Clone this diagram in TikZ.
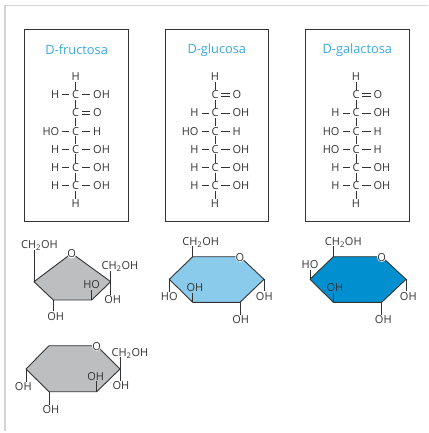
\documentclass[tikz,border=0pt]{standalone}
\usepackage{fontspec}
\setmainfont{Open Sans}
\usetikzlibrary{%
    calc,
    positioning
}
\definecolor{inkgray}{HTML}{333333}
\definecolor{titleblue}{HTML}{3AA9DC}
\definecolor{ketogray}{HTML}{BCBEC0}
\definecolor{glucoblue}{HTML}{8ACBEC}
\definecolor{galactoblue}{HTML}{0090D0}
\definecolor{pagerule}{HTML}{D4D4D4}
\tikzset{
    atom/.style = {font=\fontsize{11}{12}\selectfont, text=inkgray, text height=7.9pt, text depth=0pt,
        inner xsep=3pt, inner ysep=1.1pt, outer sep=0pt, yshift=-.6pt},
    bond/.style = {draw=inkgray, line width=.8pt},
    ring/.style = {draw=inkgray, line width=.9pt, line join=round},
    framebox/.style = {draw=inkgray, line width=.9pt},
    sugarname/.style = {font=\fontsize{12.8}{14}\selectfont, text=titleblue, inner sep=0pt},
    ringox/.style = {atom, fill=white, circle, inner sep=-.8pt}
}
% #1 prefix, #2 x of the carbons, #3 row of C=O, #4 rows with two side groups
\newcommand{\openchain}[4]{
    \node[atom] (#1r1) at (#2,76) {H};
    \node[atom] (#1r8) at (#2,203.4) {H};
    \node[atom] (#1r#3) at (#2,{76+18.2*(#3-1)}) {C};
    \node[atom,anchor=west] (#1o) at ($(#1r#3)+(14.5,-.6)$) {O};
    \draw[bond] ($(#1r#3.east)+(0,1.3)$) -- ($(#1o.west)+(0,1.3)$);
    \draw[bond] ($(#1r#3.east)+(0,-1.3)$) -- ($(#1o.west)+(0,-1.3)$);
    \foreach \i/\lft/\rgt in {#4} {
        \node[atom] (#1r\i) at (#2,{76+18.2*(\i-1)}) {C};
        \node[atom,anchor=east] (#1l\i) at ($(#1r\i)+(-13.5,-.6)$) {\lft};
        \node[atom,anchor=west] (#1m\i) at ($(#1r\i)+(14.5,-.6)$) {\rgt};
        \draw[bond] (#1l\i) -- (#1r\i);
        \draw[bond] (#1r\i) -- (#1m\i);
    }
    \foreach \i [evaluate=\i as \j using int(\i+1)] in {1,...,7}
        \draw[bond] (#1r\i) -- (#1r\j);
}
% side group: #1 ring corner, #2 name of the label
\newcommand{\sidebond}[2]{\draw[bond] (#1) -- (#1 |- #2);}

\begin{document}
\begin{tikzpicture}[x=1pt,y=-1pt]
    \useasboundingbox (0,0) rectangle (428,433);

    % page corner
    \coordinate (ruleA) at (5,431);
    \coordinate (ruleB) at (5,5.5);
    \coordinate (ruleC) at (428,5.5);
    \draw[pagerule,line width=1.4pt] (ruleA) -- (ruleB) -- (ruleC);

    % open chains
    \foreach \name/\xa/\xb/\sugar in {fru/24.4/128/D-fructosa,glu/164.7/268/D-glucosa,gal/305.2/408.5/D-galactosa} {
        \node[framebox,minimum width=\xb pt-\xa pt,minimum height=191.7pt,anchor=north west,inner sep=0pt]
            (\name box) at (\xa,29) {};
        \node[sugarname] (\name title) at ($(\name box.north)+(0,21)$) {\sugar};
    }
    \openchain{fru}{75.7}{3}{2/H/OH,4/HO/H,5/H/OH,6/H/OH,7/H/OH}
    \openchain{glu}{215}{2}{3/H/OH,4/HO/H,5/H/OH,6/H/OH,7/H/OH}
    \openchain{gal}{356}{2}{3/H/OH,4/HO/H,5/HO/H,6/H/OH,7/H/OH}

    % five membered ring
    \coordinate (fa1) at (34,281.7);
    \coordinate (fa2) at (71.7,253.3);
    \coordinate (fa3) at (110.7,281.7);
    \coordinate (fa4) at (91.7,300);
    \coordinate (fa5) at (53.3,300);
    \draw[ring,fill=ketogray] (fa1) -- (fa2) -- (fa3) -- (fa4) -- (fa5) -- cycle;
    \node[ringox] (faO) at (fa2) {O};
    \node[atom] (fach) at (39.5,244) {CH\textsubscript{2}OH};
    \node[atom] (facr) at (120,265) {CH\textsubscript{2}OH};
    \node[atom] (fahi) at (91.7,284.3) {HO};
    \node[atom] (fahr) at (112.7,299) {OH};
    \node[atom] (fahb) at (55.7,315.7) {OH};
    \sidebond{fa1}{fach.south}
    \sidebond{fa3}{facr.south}
    \sidebond{fa3}{fahr.north}
    \sidebond{fa4}{fahi.south}
    \sidebond{fa5}{fahb.north}

    % six membered ring of fructose
    \coordinate (fb1) at (26,369);
    \coordinate (fb2) at (49,345.7);
    \coordinate (fb3) at (96.7,345.7);
    \coordinate (fb4) at (120,369);
    \coordinate (fb5) at (96.7,391.7);
    \coordinate (fb6) at (49,391.7);
    \draw[ring,fill=ketogray] (fb1) -- (fb2) -- (fb3) -- (fb4) -- (fb5) -- (fb6) -- cycle;
    \node[ringox] (fbO) at (fb3) {O};
    \node[atom] (fbcr) at (130,351.7) {CH\textsubscript{2}OH};
    \node[atom] (fbhl) at (23.3,386) {OH};
    \node[atom] (fbhi) at (95.7,375.7) {OH};
    \node[atom] (fbhr) at (121,385) {OH};
    \node[atom] (fbhb) at (51,409) {OH};
    \sidebond{fb4}{fbcr.south}
    \sidebond{fb4}{fbhr.north}
    \sidebond{fb1}{fbhl.north}
    \sidebond{fb5}{fbhi.south}
    \sidebond{fb6}{fbhb.north}

    % glucose ring
    \coordinate (ga1) at (169.3,279.3);
    \coordinate (ga2) at (192.7,256.7);
    \coordinate (ga3) at (240,256.7);
    \coordinate (ga4) at (264,279.3);
    \coordinate (ga5) at (240,302.3);
    \coordinate (ga6) at (192.7,302.3);
    \draw[ring,fill=glucoblue] (ga1) -- (ga2) -- (ga3) -- (ga4) -- (ga5) -- (ga6) -- cycle;
    \node[ringox] (gaO) at (ga3) {O};
    \node[atom] (gach) at (200.7,240.7) {CH\textsubscript{2}OH};
    \node[atom] (gahl) at (169.3,296) {HO};
    \node[atom] (gahi) at (195,287.3) {OH};
    \node[atom] (gahr) at (264.3,295.7) {OH};
    \node[atom] (gahb) at (240.7,319.3) {OH};
    \sidebond{ga2}{gach.south}
    \sidebond{ga1}{gahl.north}
    \sidebond{ga6}{gahi.south}
    \sidebond{ga4}{gahr.north}
    \sidebond{ga5}{gahb.north}

    % galactose ring
    \coordinate (gb1) at (310,279.3);
    \coordinate (gb2) at (333.3,256.7);
    \coordinate (gb3) at (381.7,256.7);
    \coordinate (gb4) at (406,279.3);
    \coordinate (gb5) at (381.7,302.3);
    \coordinate (gb6) at (333.3,302.3);
    \draw[ring,fill=galactoblue] (gb1) -- (gb2) -- (gb3) -- (gb4) -- (gb5) -- (gb6) -- cycle;
    \node[ringox] (gbO) at (gb3) {O};
    \node[atom] (gbch) at (343.3,240.7) {CH\textsubscript{2}OH};
    \node[atom] (gbhl) at (310,264) {HO};
    \node[atom] (gbhi) at (335,287.3) {OH};
    \node[atom] (gbhr) at (408.3,295.7) {OH};
    \node[atom] (gbhb) at (383.3,319.3) {OH};
    \sidebond{gb2}{gbch.south}
    \sidebond{gb1}{gbhl.south}
    \sidebond{gb6}{gbhi.south}
    \sidebond{gb4}{gbhr.north}
    \sidebond{gb5}{gbhb.north}
\end{tikzpicture}
\end{document}
